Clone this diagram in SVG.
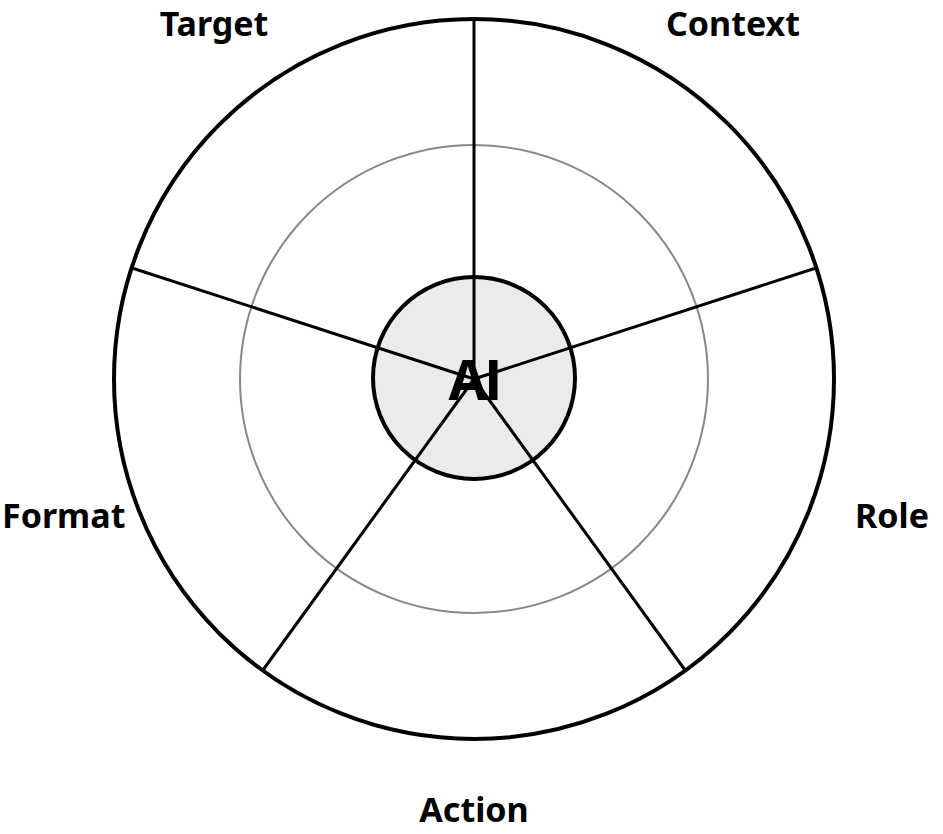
<svg xmlns="http://www.w3.org/2000/svg" width="943" height="834" viewBox="0 0 943 834">
<style>
.lbl{font-family:"Noto Sans","Open Sans",sans-serif;font-weight:bold;font-size:34px;fill:#000;text-anchor:middle}
.hubtxt{font-family:"Open Sans","Noto Sans",sans-serif;font-weight:bold;font-size:56px;letter-spacing:-3px;fill:#000;text-anchor:middle}
.spoke{stroke:#000;stroke-width:3;fill:none}
</style>
<rect width="943" height="834" fill="#fff"/>
<g id="outer"><circle cx="474" cy="379" r="360" fill="none" stroke="#000" stroke-width="4"/></g>
<g id="ring"><circle cx="474" cy="379" r="234" fill="none" stroke="#888" stroke-width="2"/></g>
<g id="hub"><circle cx="474" cy="378" r="101" fill="#ebebeb" stroke="#000" stroke-width="4"/>
<text class="hubtxt" x="474" y="400">AI</text></g>
<g id="connectors">
<line class="spoke" x1="474" y1="379" x2="474" y2="19"/>
<line class="spoke" x1="474" y1="379" x2="816" y2="268"/>
<line class="spoke" x1="474" y1="379" x2="685" y2="670"/>
<line class="spoke" x1="474" y1="379" x2="263" y2="670"/>
<line class="spoke" x1="474" y1="379" x2="132" y2="268"/>
</g>
<g id="target"><text class="lbl" x="214" y="36">Target</text></g>
<g id="context"><text class="lbl" x="733" y="36">Context</text></g>
<g id="role"><text class="lbl" x="855" y="528" style="text-anchor:start">Role</text></g>
<g id="format"><text class="lbl" x="2" y="528" style="text-anchor:start">Format</text></g>
<g id="action"><text class="lbl" x="474" y="822">Action</text></g>
</svg>
